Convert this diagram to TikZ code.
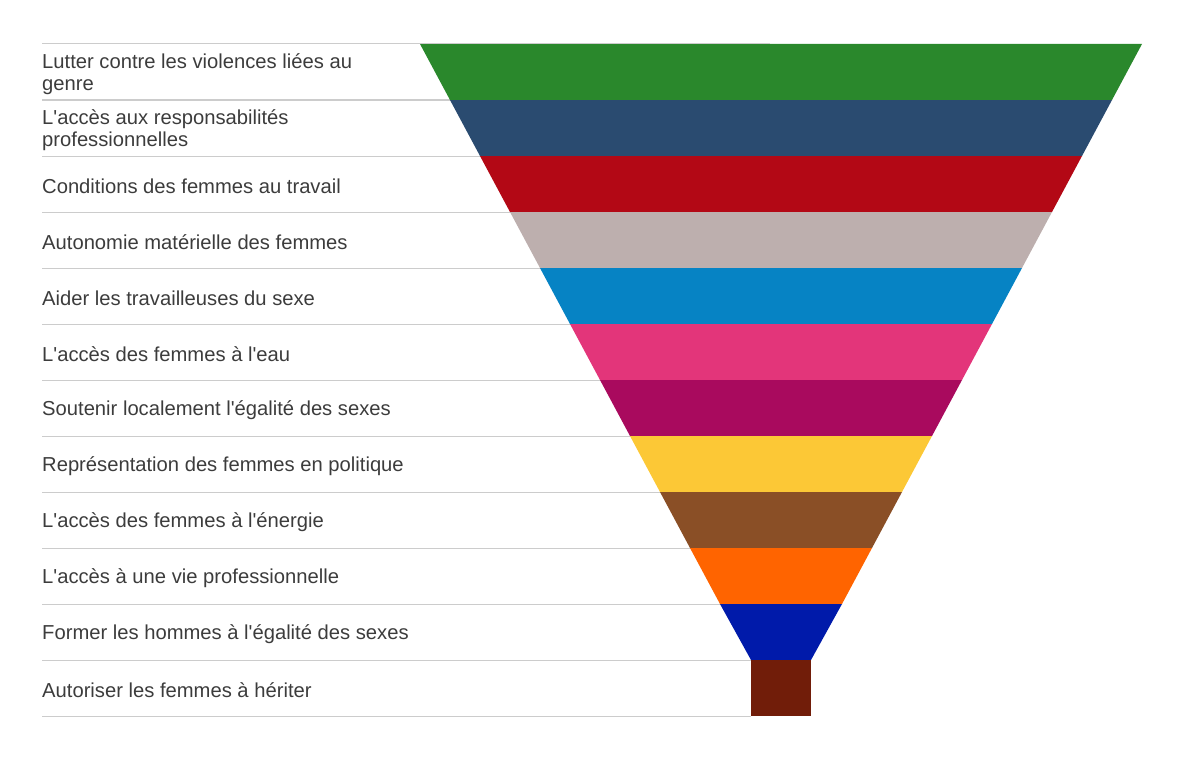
\documentclass[tikz,border=0pt]{standalone}
\usepackage{fontspec}
\setmainfont{Liberation Sans}
\usepackage{xcolor}

\definecolor{cGreen}{HTML}{2A882C}
\definecolor{cNavy}{HTML}{2A4B70}
\definecolor{cRed}{HTML}{B30815}
\definecolor{cTaupe}{HTML}{BDAFAE}
\definecolor{cSky}{HTML}{0683C4}
\definecolor{cPink}{HTML}{E3357A}
\definecolor{cPlum}{HTML}{A90A5E}
\definecolor{cYellow}{HTML}{FCC836}
\definecolor{cBrown}{HTML}{8A4F26}
\definecolor{cOrange}{HTML}{FF6400}
\definecolor{cBlue}{HTML}{001AAA}
\definecolor{cDark}{HTML}{711D09}
\definecolor{cText}{HTML}{3C3C3C}
\definecolor{cRule}{HTML}{CCCCCC}

\newcommand{\ap}{\textquotesingle}

\tikzset{
  rowlabel/.style={anchor=west, inner sep=0pt, align=left, text=cText,
    font=\fontsize{20.2}{22}\selectfont},
  rowrule/.style={draw=cRule, line width=1pt}
}

\begin{document}
\begin{tikzpicture}[x=1pt, y=-1pt]
    % Fix the page size
    \useasboundingbox (0,0) rectangle (1184,760);

    % Draw the separator lines
    \draw[rowrule] (42,100) -- (451,100);
    \draw[rowrule] (42,156) -- (481,156);
    \draw[rowrule] (42,212) -- (511,212);
    \draw[rowrule] (42,268) -- (541,268);
    \draw[rowrule] (42,324) -- (571,324);
    \draw[rowrule] (42,380) -- (601,380);
    \draw[rowrule] (42,436) -- (631,436);
    \draw[rowrule] (42,492) -- (661,492);
    \draw[rowrule] (42,548) -- (691,548);
    \draw[rowrule] (42,604) -- (721,604);
    \draw[rowrule] (42,660) -- (751,660);
    \draw[rowrule] (42,716) -- (751,716);

    % Draw the funnel slices
    \fill[cGreen] (420,44) -- (1142,44) -- (1112,100) -- (450,100) -- cycle;
    \fill[cNavy] (450,100) -- (1112,100) -- (1082,156) -- (480,156) -- cycle;
    \fill[cRed] (480,156) -- (1082,156) -- (1052,212) -- (510,212) -- cycle;
    \fill[cTaupe] (510,212) -- (1052,212) -- (1022,268) -- (540,268) -- cycle;
    \fill[cSky] (540,268) -- (1022,268) -- (992,324) -- (570,324) -- cycle;
    \fill[cPink] (570,324) -- (992,324) -- (962,380) -- (600,380) -- cycle;
    \fill[cPlum] (600,380) -- (962,380) -- (932,436) -- (630,436) -- cycle;
    \fill[cYellow] (630,436) -- (932,436) -- (902,492) -- (660,492) -- cycle;
    \fill[cBrown] (660,492) -- (902,492) -- (872,548) -- (690,548) -- cycle;
    \fill[cOrange] (690,548) -- (872,548) -- (842,604) -- (720,604) -- cycle;
    \fill[cBlue] (720,604) -- (842,604) -- (811,660) -- (751,660) -- cycle;
    \fill[cDark] (751,660) rectangle (811,716);

    % Top line sits over the first slice
    \draw[rowrule] (42,43.5) -- (770,43.5);

    % Label the slices
    \node[rowlabel] (lutter) at (42,74.5) {Lutter contre les violences liées au\\genre};
    \node[rowlabel] (responsabilites) at (42,130.5) {L\ap accès aux responsabilités\\professionnelles};
    \node[rowlabel] (conditions) at (42,186) {Conditions des femmes au travail};
    \node[rowlabel] (autonomie) at (42,242) {Autonomie matérielle des femmes};
    \node[rowlabel] (travailleuses) at (42,298) {Aider les travailleuses du sexe};
    \node[rowlabel] (eau) at (42,354) {L\ap accès des femmes à l\ap eau};
    \node[rowlabel] (localement) at (42,410) {Soutenir localement l\ap égalité des sexes};
    \node[rowlabel] (politique) at (42,466) {Représentation des femmes en politique};
    \node[rowlabel] (energie) at (42,522) {L\ap accès des femmes à l\ap énergie};
    \node[rowlabel] (vie) at (42,578) {L\ap accès à une vie professionnelle};
    \node[rowlabel] (hommes) at (42,634) {Former les hommes à l\ap égalité des sexes};
    \node[rowlabel] (heriter) at (42,690) {Autoriser les femmes à hériter};
\end{tikzpicture}
\end{document}
